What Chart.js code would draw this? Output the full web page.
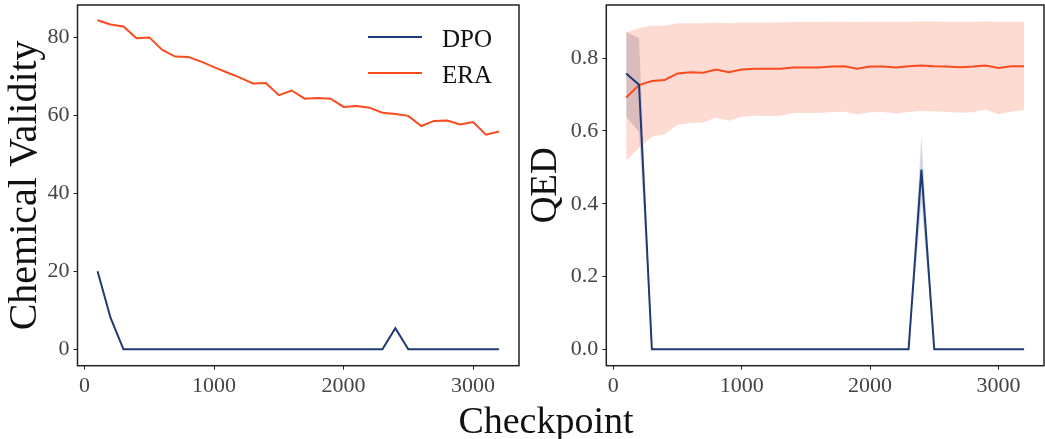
<!DOCTYPE html>
<html>
<head>
<meta charset="utf-8">
<script src="https://cdn.jsdelivr.net/npm/chart.js@4/dist/chart.umd.min.js"></script>
<style>
  body { margin: 0; background: #fff; width: 1045px; height: 439px; position: relative; overflow: hidden; font-family: "Liberation Serif", serif; }
  .panel { position: absolute; top: 0; }
  .lbl { position: absolute; color: #111; white-space: nowrap; line-height: 30px; }
  .key { position: absolute; height: 2px; width: 54px; }
</style>
</head>
<body>
<div class="panel" style="left:0"><canvas id="left" width="520" height="400"></canvas></div>
<div class="panel" style="left:520px"><canvas id="right" width="525" height="400"></canvas></div>

<div class="key" style="left:368px; top:36px; background:#1f3b73"></div>
<div class="lbl" style="left:442px; top:24px; font-size:25px">DPO</div>
<div class="key" style="left:368px; top:72px; background:#fa4b1e"></div>
<div class="lbl" style="left:442px; top:60px; font-size:25px">ERA</div>

<div class="lbl" style="left:446px; width:200px; text-align:center; top:400px; line-height:40px; font-size:38px">Checkpoint</div>

<script>
const checkpoints = [100, 200, 300, 400, 500, 600, 700, 800, 900, 1000, 1100, 1200, 1300, 1400, 1500, 1600,
                     1700, 1800, 1900, 2000, 2100, 2200, 2300, 2400, 2500, 2600, 2700, 2800, 2900, 3000, 3100, 3200];

// Chemical validity (%)
const dpoValidity = [20, 8.1, 0, 0, 0, 0, 0, 0, 0, 0, 0, 0, 0, 0, 0, 0,
                     0, 0, 0, 0, 0, 0, 0, 5.4, 0, 0, 0, 0, 0, 0, 0, 0];
const eraValidity = [84.3, 83.2, 82.7, 79.7, 79.9, 76.7, 75.0, 74.9, 73.7, 72.3, 70.9, 69.6, 68.1, 68.2, 65.1, 66.3,
                     64.2, 64.4, 64.2, 62.1, 62.3, 61.9, 60.6, 60.3, 59.8, 57.2, 58.5, 58.6, 57.6, 58.2, 55.0, 55.8];

// QED mean and band
const dpoQed      = [0.758, 0.727, 0, 0, 0, 0, 0, 0, 0, 0, 0, 0, 0, 0, 0, 0,
                     0, 0, 0, 0, 0, 0, 0, 0.494, 0, 0, 0, 0, 0, 0, 0, 0];
const dpoQedUpper = [0.872, 0.855, 0, 0, 0, 0, 0, 0, 0, 0, 0, 0, 0, 0, 0, 0,
                     0, 0, 0, 0, 0, 0, 0, 0.585, 0, 0, 0, 0, 0, 0, 0, 0];
const dpoQedLower = [0.639, 0.597, 0, 0, 0, 0, 0, 0, 0, 0, 0, 0, 0, 0, 0, 0,
                     0, 0, 0, 0, 0, 0, 0, 0.40, 0, 0, 0, 0, 0, 0, 0, 0];
const eraQed      = [0.692, 0.726, 0.737, 0.740, 0.758, 0.761, 0.760, 0.769, 0.761, 0.769, 0.771, 0.771, 0.771, 0.774, 0.774, 0.774,
                     0.777, 0.778, 0.771, 0.777, 0.777, 0.774, 0.778, 0.780, 0.778, 0.777, 0.775, 0.777, 0.780, 0.773, 0.778, 0.778];
const eraQedUpper = [0.870, 0.883, 0.889, 0.889, 0.896, 0.896, 0.896, 0.897, 0.896, 0.898, 0.898, 0.898, 0.898, 0.899, 0.899, 0.899,
                     0.900, 0.900, 0.899, 0.900, 0.900, 0.900, 0.900, 0.901, 0.901, 0.900, 0.900, 0.900, 0.901, 0.900, 0.900, 0.900];
const eraQedLower = [0.519, 0.553, 0.584, 0.591, 0.617, 0.622, 0.623, 0.637, 0.628, 0.639, 0.642, 0.641, 0.642, 0.649, 0.649, 0.649,
                     0.652, 0.653, 0.645, 0.651, 0.652, 0.648, 0.652, 0.655, 0.654, 0.652, 0.650, 0.651, 0.659, 0.646, 0.653, 0.657];

const xTicks = [0, 1000, 2000, 3000];
const validityTicks = [0, 20, 40, 60, 80];
const qedTicks = [0, 0.2, 0.4, 0.6, 0.8];

/* colors */
const colors = { dpo: "#1f3b73", era: "#fa4b1e", dpoBand: "rgba(31,59,115,0.2)", eraBand: "rgba(250,75,30,0.2)" };
const serif = '"Liberation Serif", serif';

const pts = vals => vals.map((v, i) => ({ x: checkpoints[i], y: v }));

// full black frame around the plot area
const frame = {
    id: 'frame',
    afterDraw(chart) {
        const { ctx, chartArea: a } = chart;
        ctx.save();
        ctx.strokeStyle = '#222';
        ctx.lineWidth = 1.5;
        ctx.strokeRect(a.left, a.top, a.right - a.left, a.bottom - a.top);
        ctx.restore();
    }
};

function line(data, color) {
    return { data: pts(data), borderColor: color, backgroundColor: color, borderWidth: 2,
             pointRadius: 0, tension: 0, fill: false, order: 0 };
}
function band(upper, lower, color, order) {
    return [
        { data: pts(upper), borderWidth: 0, pointRadius: 0, fill: false, order: order },
        { data: pts(lower), borderWidth: 0, pointRadius: 0, fill: '-1', backgroundColor: color, order: order }
    ];
}

function makeOptions(yMin, yMax, yTickVals, yFmt, yTitle, titleSize, yWidth, titlePad) {
    return {
        responsive: false,
        animation: false,
        layout: { padding: { top: 5, right: 1, bottom: 0, left: 0 } },
        plugins: { legend: { display: false }, tooltip: { enabled: false } },
        scales: {
            x: {
                type: 'linear', min: -55, max: 3355,
                afterBuildTicks: s => { s.ticks = xTicks.map(v => ({ value: v })); },
                afterFit: s => { s.height = 34.3; s.paddingLeft = 0; s.paddingRight = 0; },
                border: { display: false },
                grid: { drawOnChartArea: false, drawTicks: true, tickLength: 4, color: '#222' },
                ticks: { padding: 3, color: '#444', font: { family: serif, size: 22 }, callback: v => String(v) }
            },
            y: {
                min: yMin, max: yMax,
                afterBuildTicks: s => { s.ticks = yTickVals.map(v => ({ value: v })); },
                afterFit: s => { s.width = yWidth; s.paddingTop = 0; s.paddingBottom = 0; },
                border: { display: false },
                grid: { drawOnChartArea: false, drawTicks: true, tickLength: 4, color: '#222' },
                ticks: { padding: 4, color: '#444', font: { family: serif, size: 22 }, callback: yFmt },
                title: { display: true, text: yTitle, color: '#111', padding: { top: titlePad, bottom: 0 },
                         font: { family: serif, size: titleSize, lineHeight: 1.2 } }
            }
        }
    };
}

new Chart(document.getElementById('left'), {
    type: 'line',
    data: { datasets: [line(dpoValidity, colors.dpo), line(eraValidity, colors.era)] },
    options: makeOptions(-4.2, 88.2, validityTicks, v => String(v), 'Chemical Validity', 40, 77.5, 1),
    plugins: [frame]
});

new Chart(document.getElementById('right'), {
    type: 'line',
    data: {
        datasets: [
            line(dpoQed, colors.dpo),
            line(eraQed, colors.era),
            ...band(eraQedUpper, eraQedLower, colors.eraBand, 1),
            ...band(dpoQedUpper, dpoQedLower, colors.dpoBand, 2)
        ]
    },
    options: makeOptions(-0.045, 0.946, qedTicks, v => v.toFixed(1), 'QED', 37, 86.3, 4),
    plugins: [frame]
});
</script>
</body>
</html>
